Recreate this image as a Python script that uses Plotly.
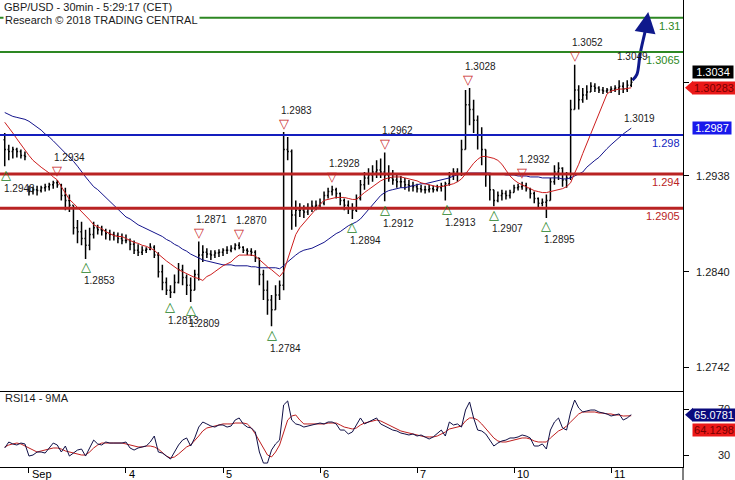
import plotly.graph_objects as go

# ---------------- data (hourly bars; hour 0 = 3 Sep 00:00, weekend removed) ----------------
hours = list(range(-6, 150))

opens = [
    1.2975, 1.2965, 1.2963, 1.2965, 1.2963, 1.2959,
    1.2924, 1.2922, 1.2924, 1.2923, 1.2926, 1.2927, 1.2929, 1.2931,
    1.2929, 1.2918, 1.2913, 1.2908, 1.2885, 1.2881, 1.2874, 1.2867,
    1.2878, 1.2885, 1.2883, 1.2882, 1.2879, 1.2878, 1.2877, 1.2874,
    1.2872, 1.2872, 1.2868, 1.2862, 1.2860, 1.2862, 1.2863, 1.2865,
    1.2857, 1.2840, 1.2829, 1.2821, 1.2819, 1.2829, 1.2842, 1.2834,
    1.2826, 1.2821, 1.2837, 1.2857, 1.2860, 1.2858, 1.2857, 1.2859,
    1.2860, 1.2862, 1.2862, 1.2864, 1.2867, 1.2865, 1.2862, 1.2861,
    1.2860, 1.2854, 1.2837, 1.2821, 1.2811, 1.2801, 1.2816, 1.2826,
    1.2965, 1.2963, 1.2898, 1.2903, 1.2903, 1.2901, 1.2905, 1.2907,
    1.2908, 1.2910, 1.2918, 1.2922, 1.2924, 1.2920, 1.2913, 1.2908,
    1.2905, 1.2903, 1.2915, 1.2929, 1.2936, 1.2939, 1.2942, 1.2944,
    1.2942, 1.2939, 1.2936, 1.2934, 1.2932, 1.2932, 1.2929, 1.2928,
    1.2927, 1.2925, 1.2924, 1.2924, 1.2925, 1.2924, 1.2926, 1.2928,
    1.2930, 1.2938, 1.2942, 1.2940, 1.2965, 1.3011, 1.3006, 1.2995,
    1.2980, 1.2965, 1.2939, 1.2924, 1.2913, 1.2918, 1.2920, 1.2918,
    1.2921, 1.2926, 1.2927, 1.2928, 1.2925, 1.2920, 1.2915, 1.2910,
    1.2911, 1.2913, 1.2932, 1.2942, 1.2946, 1.2934, 1.2936, 1.3006,
    1.3026, 1.3016, 1.3021, 1.3024, 1.3030, 1.3028, 1.3026, 1.3025,
    1.3026, 1.3027, 1.3028, 1.3030, 1.3027, 1.3031,
]
highs = [
    1.2982, 1.2970, 1.2968, 1.2967, 1.2965, 1.2963,
    1.2928, 1.2927, 1.2928, 1.2928, 1.2930, 1.2931, 1.2933, 1.2934,
    1.2930, 1.2926, 1.2919, 1.2908, 1.2893, 1.2891, 1.2883, 1.2885,
    1.2891, 1.2888, 1.2887, 1.2884, 1.2883, 1.2881, 1.2880, 1.2879,
    1.2878, 1.2874, 1.2872, 1.2868, 1.2866, 1.2865, 1.2869, 1.2867,
    1.2860, 1.2847, 1.2834, 1.2826, 1.2837, 1.2849, 1.2847, 1.2837,
    1.2834, 1.2842, 1.2871, 1.2867, 1.2864, 1.2862, 1.2862, 1.2863,
    1.2864, 1.2866, 1.2867, 1.2869, 1.2870, 1.2866, 1.2864, 1.2864,
    1.2862, 1.2854, 1.2842, 1.2831, 1.2816, 1.2826, 1.2831, 1.2983,
    1.2978, 1.2965, 1.2913, 1.2910, 1.2908, 1.2910, 1.2913, 1.2913,
    1.2915, 1.2922, 1.2926, 1.2928, 1.2926, 1.2921, 1.2915, 1.2913,
    1.2910, 1.2919, 1.2934, 1.2942, 1.2946, 1.2949, 1.2954, 1.2956,
    1.2962, 1.2949, 1.2944, 1.2939, 1.2938, 1.2936, 1.2934, 1.2932,
    1.2930, 1.2929, 1.2928, 1.2929, 1.2928, 1.2929, 1.2931, 1.2932,
    1.2942, 1.2946, 1.2946, 1.2975, 1.3026, 1.3028, 1.3016, 1.3000,
    1.2988, 1.2965, 1.2939, 1.2924, 1.2922, 1.2924, 1.2923, 1.2924,
    1.2929, 1.2930, 1.2932, 1.2931, 1.2926, 1.2922, 1.2916, 1.2915,
    1.2919, 1.2936, 1.2949, 1.2952, 1.2947, 1.2942, 1.3016, 1.3052,
    1.3031, 1.3028, 1.3031, 1.3034, 1.3033, 1.3030, 1.3029, 1.3028,
    1.3030, 1.3031, 1.3036, 1.3034, 1.3036, 1.3039,
]
lows = [
    1.2948, 1.2954, 1.2956, 1.2957, 1.2956, 1.2954,
    1.2918, 1.2919, 1.2918, 1.2921, 1.2922, 1.2923, 1.2925, 1.2926,
    1.2913, 1.2903, 1.2901, 1.2878, 1.2869, 1.2867, 1.2853, 1.2862,
    1.2874, 1.2878, 1.2877, 1.2873, 1.2872, 1.2872, 1.2869, 1.2868,
    1.2869, 1.2862, 1.2858, 1.2856, 1.2857, 1.2859, 1.2862, 1.2854,
    1.2834, 1.2821, 1.2816, 1.2813, 1.2818, 1.2828, 1.2826, 1.2816,
    1.2809, 1.2821, 1.2831, 1.2850, 1.2854, 1.2852, 1.2854, 1.2855,
    1.2856, 1.2858, 1.2860, 1.2862, 1.2863, 1.2859, 1.2857, 1.2856,
    1.2850, 1.2826, 1.2811, 1.2796, 1.2784, 1.2801, 1.2811, 1.2821,
    1.2954, 1.2883, 1.2886, 1.2896, 1.2895, 1.2898, 1.2901, 1.2903,
    1.2905, 1.2908, 1.2915, 1.2918, 1.2915, 1.2908, 1.2903, 1.2899,
    1.2894, 1.2901, 1.2913, 1.2924, 1.2929, 1.2932, 1.2936, 1.2936,
    1.2912, 1.2932, 1.2929, 1.2926, 1.2926, 1.2924, 1.2922, 1.2922,
    1.2921, 1.2921, 1.2920, 1.2921, 1.2921, 1.2922, 1.2922, 1.2913,
    1.2928, 1.2934, 1.2932, 1.2938, 1.2965, 1.2990, 1.2982, 1.2965,
    1.2949, 1.2927, 1.2913, 1.2907, 1.2911, 1.2913, 1.2914, 1.2915,
    1.2921, 1.2923, 1.2924, 1.2922, 1.2915, 1.2910, 1.2906, 1.2907,
    1.2895, 1.2913, 1.2929, 1.2934, 1.2927, 1.2926, 1.2934, 1.3006,
    1.3006, 1.3013, 1.3016, 1.3024, 1.3024, 1.3023, 1.3022, 1.3023,
    1.3023, 1.3024, 1.3021, 1.3023, 1.3024, 1.3029,
]
closes = [
    1.2965, 1.2963, 1.2965, 1.2963, 1.2959, 1.2958,
    1.2922, 1.2924, 1.2923, 1.2926, 1.2927, 1.2929, 1.2931, 1.2929,
    1.2918, 1.2913, 1.2908, 1.2885, 1.2881, 1.2874, 1.2867, 1.2878,
    1.2885, 1.2883, 1.2882, 1.2879, 1.2878, 1.2877, 1.2874, 1.2872,
    1.2872, 1.2868, 1.2862, 1.2860, 1.2862, 1.2863, 1.2865, 1.2857,
    1.2840, 1.2829, 1.2821, 1.2819, 1.2829, 1.2842, 1.2834, 1.2826,
    1.2821, 1.2837, 1.2857, 1.2860, 1.2858, 1.2857, 1.2859, 1.2860,
    1.2862, 1.2862, 1.2864, 1.2867, 1.2865, 1.2862, 1.2861, 1.2860,
    1.2854, 1.2837, 1.2821, 1.2811, 1.2801, 1.2816, 1.2826, 1.2965,
    1.2963, 1.2898, 1.2903, 1.2903, 1.2901, 1.2905, 1.2907, 1.2908,
    1.2910, 1.2918, 1.2922, 1.2924, 1.2920, 1.2913, 1.2908, 1.2905,
    1.2903, 1.2915, 1.2929, 1.2936, 1.2939, 1.2942, 1.2944, 1.2942,
    1.2939, 1.2936, 1.2934, 1.2932, 1.2932, 1.2929, 1.2928, 1.2927,
    1.2925, 1.2924, 1.2924, 1.2925, 1.2924, 1.2926, 1.2928, 1.2930,
    1.2938, 1.2942, 1.2940, 1.2965, 1.3011, 1.3006, 1.2995, 1.2980,
    1.2965, 1.2939, 1.2924, 1.2913, 1.2918, 1.2920, 1.2918, 1.2921,
    1.2926, 1.2927, 1.2928, 1.2925, 1.2920, 1.2915, 1.2910, 1.2911,
    1.2913, 1.2932, 1.2942, 1.2946, 1.2934, 1.2936, 1.3006, 1.3026,
    1.3016, 1.3021, 1.3024, 1.3030, 1.3028, 1.3026, 1.3025, 1.3026,
    1.3027, 1.3028, 1.3030, 1.3027, 1.3031, 1.3034,
]
ma_red = [
    1.2993, 1.2988, 1.2982, 1.2976, 1.2970, 1.2965,
    1.2959, 1.2954, 1.2950, 1.2947, 1.2944, 1.2941, 1.2937, 1.2934,
    1.2927, 1.2921, 1.2914, 1.2910, 1.2906, 1.2902, 1.2898, 1.2893,
    1.2888, 1.2886, 1.2884, 1.2881, 1.2879, 1.2877, 1.2876, 1.2876,
    1.2874, 1.2872, 1.2870, 1.2869, 1.2867, 1.2866, 1.2864, 1.2862,
    1.2858, 1.2854, 1.2851, 1.2848, 1.2845, 1.2842, 1.2840, 1.2838,
    1.2836, 1.2834, 1.2833, 1.2831, 1.2835, 1.2837, 1.2840, 1.2843,
    1.2846, 1.2848, 1.2850, 1.2854, 1.2857, 1.2857, 1.2857, 1.2857,
    1.2856, 1.2852, 1.2848, 1.2845, 1.2842, 1.2838, 1.2835, 1.2840,
    1.2852, 1.2864, 1.2878, 1.2885, 1.2890, 1.2895, 1.2899, 1.2904,
    1.2909, 1.2913, 1.2914, 1.2915, 1.2916, 1.2916, 1.2916, 1.2915,
    1.2914, 1.2914, 1.2918, 1.2921, 1.2924, 1.2927, 1.2930, 1.2933,
    1.2935, 1.2936, 1.2937, 1.2937, 1.2937, 1.2936, 1.2935, 1.2934,
    1.2933, 1.2931, 1.2930, 1.2929, 1.2928, 1.2927, 1.2927, 1.2928,
    1.2929, 1.2930, 1.2932, 1.2935, 1.2940, 1.2946, 1.2951, 1.2955,
    1.2958, 1.2958, 1.2957, 1.2956, 1.2954, 1.2950, 1.2944, 1.2938,
    1.2934, 1.2931, 1.2929, 1.2927, 1.2925, 1.2923, 1.2922, 1.2921,
    1.2921, 1.2922, 1.2923, 1.2924, 1.2925, 1.2927, 1.2931, 1.2941,
    1.2950, 1.2961, 1.2971, 1.2981, 1.2991, 1.3001, 1.3012, 1.3022,
    1.3025, 1.3026, 1.3027, 1.3027, 1.3028, 1.30283,
]
ma_blue = [
    1.3003, 1.3001, 1.2999, 1.2998, 1.2997, 1.2996,
    1.2994, 1.2991, 1.2988, 1.2985, 1.2981, 1.2978, 1.2974, 1.2970,
    1.2966, 1.2962, 1.2957, 1.2953, 1.2948, 1.2942, 1.2937, 1.2932,
    1.2927, 1.2924, 1.2920, 1.2915, 1.2911, 1.2908, 1.2904, 1.2900,
    1.2896, 1.2894, 1.2891, 1.2888, 1.2886, 1.2884, 1.2882, 1.2880,
    1.2878, 1.2876, 1.2873, 1.2871, 1.2868, 1.2866, 1.2863, 1.2861,
    1.2858, 1.2856, 1.2854, 1.2852, 1.2851, 1.2850, 1.2849, 1.2848,
    1.2847, 1.2847, 1.2847, 1.2846, 1.2846, 1.2846, 1.2846, 1.2845,
    1.2845, 1.2844, 1.2844, 1.2844, 1.2844, 1.2844, 1.2843, 1.2846,
    1.2850, 1.2854, 1.2857, 1.2860, 1.2862, 1.2863, 1.2864, 1.2866,
    1.2868, 1.2870, 1.2873, 1.2876, 1.2879, 1.2881, 1.2884, 1.2887,
    1.2889, 1.2891, 1.2894, 1.2899, 1.2904, 1.2908, 1.2913, 1.2918,
    1.2921, 1.2923, 1.2924, 1.2925, 1.2926, 1.2926, 1.2927, 1.2928,
    1.2929, 1.2930, 1.2930, 1.2931, 1.2932, 1.2933, 1.2934, 1.2935,
    1.2936, 1.2938, 1.2939, 1.2940, 1.2941, 1.2941, 1.2941, 1.2941,
    1.2941, 1.2941, 1.2941, 1.2940, 1.2940, 1.2940, 1.2939, 1.2939,
    1.2939, 1.2938, 1.2938, 1.2938, 1.2937, 1.2937, 1.2937, 1.2936,
    1.2936, 1.2936, 1.2936, 1.2936, 1.2935, 1.2935, 1.2936, 1.2938,
    1.2940, 1.2942, 1.2947, 1.2951, 1.2954, 1.2957, 1.2962, 1.2966,
    1.2970, 1.2974, 1.2978, 1.2981, 1.2984, 1.2987,
]
rsi = [
    36.1, 41.3, 39.6, 38.7, 40.4, 39.6,
    29.1, 30.0, 32.6, 32.6, 31.7, 36.1, 40.4, 38.7,
    32.6, 37.8, 29.1, 31.7, 34.3, 35.2, 29.1, 36.1,
    43.0, 39.6, 38.7, 41.3, 40.4, 40.4, 40.4, 40.4,
    41.3, 36.1, 34.3, 36.1, 37.0, 37.8, 41.3, 46.5,
    32.6, 31.7, 29.1, 26.5, 32.6, 38.7, 43.0, 44.8,
    37.8, 44.8, 54.3, 58.7, 57.0, 55.2, 54.3, 56.1,
    56.1, 54.3, 55.2, 60.4, 62.2, 57.0, 54.3, 53.5,
    50.0, 32.6, 23.0, 23.0, 34.3, 39.6, 43.0, 73.5,
    77.0, 60.4, 57.0, 56.1, 54.3, 55.2, 56.1, 57.0,
    57.8, 57.0, 58.7, 58.7, 57.0, 51.7, 51.7, 48.3,
    50.0, 56.1, 62.2, 57.0, 58.7, 60.4, 62.2, 57.0,
    55.2, 53.5, 51.7, 50.9, 49.1, 48.3, 47.4, 48.3,
    46.5, 47.4, 45.7, 43.9, 45.7, 48.3, 51.7, 46.5,
    58.7, 56.1, 57.0, 54.3, 69.1, 76.1, 62.2, 51.7,
    50.9, 48.3, 43.0, 37.8, 40.4, 42.2, 43.0, 44.8,
    44.8, 45.7, 47.4, 46.5, 44.8, 37.8, 37.8, 39.6,
    35.2, 51.7, 58.7, 62.2, 53.5, 51.7, 67.4, 77.8,
    70.9, 67.4, 68.3, 69.1, 69.1, 67.4, 66.5, 65.7,
    63.9, 64.8, 65.7, 60.4, 62.2, 65.0781,
]
rsi_ma = [
    37.0, 38.7, 39.6, 40.4, 39.6, 37.8,
    36.1, 34.3, 32.6, 33.5, 34.3, 35.2, 36.1, 36.1,
    35.2, 33.5, 32.6, 31.7, 30.9, 30.0, 30.0, 32.6,
    36.1, 38.7, 40.4, 40.4, 40.4, 40.4, 40.4, 40.4,
    39.6, 38.7, 37.8, 37.0, 37.0, 37.8, 37.8, 37.0,
    35.2, 31.7, 29.1, 27.4, 28.3, 30.9, 34.3, 37.0,
    38.7, 42.2, 46.5, 50.9, 53.5, 54.3, 55.2, 56.1,
    57.0, 57.0, 57.0, 57.8, 57.8, 57.8, 57.0, 53.5,
    48.3, 42.2, 36.1, 30.0, 28.3, 32.6, 38.7, 50.0,
    60.4, 63.9, 64.8, 60.4, 57.0, 57.0, 57.0, 57.0,
    57.0, 57.0, 57.8, 57.8, 57.8, 56.1, 54.3, 53.5,
    52.6, 53.5, 56.1, 57.8, 58.7, 59.6, 60.4, 59.6,
    57.8, 56.1, 54.3, 52.6, 50.9, 50.0, 49.1, 48.3,
    47.4, 46.5, 45.7, 45.7, 45.7, 46.5, 48.3, 50.0,
    52.6, 53.5, 54.3, 55.2, 59.6, 62.2, 62.2, 60.4,
    57.0, 52.6, 48.3, 44.8, 42.2, 41.3, 41.3, 42.2,
    43.0, 43.9, 44.8, 44.8, 43.9, 42.2, 41.3, 41.3,
    41.3, 44.8, 48.3, 50.9, 52.6, 55.2, 58.7, 62.2,
    65.7, 67.4, 67.4, 67.4, 67.4, 66.5, 66.5, 65.7,
    65.7, 64.8, 64.8, 63.9, 63.9, 64.1298,
]

for name, arr in [("opens", opens), ("highs", highs), ("lows", lows), ("closes", closes),
                  ("ma_red", ma_red), ("ma_blue", ma_blue), ("rsi", rsi), ("rsi_ma", rsi_ma)]:
    if len(arr) != len(hours):
        raise ValueError(f"{name} has {len(arr)} values, expected {len(hours)}")

# swing points
swing_high_hours = [7, 42, 52, 63, 75, 88, 108.6, 122, 135]
swing_high_values = [1.2934, 1.2871, 1.2870, 1.2983, 1.2928, 1.2962, 1.3028, 1.2932, 1.3052]
swing_low_hours = [-5.7, 14, 35, 40, 60, 80, 88, 103.5, 115, 128]
swing_low_values = [1.2948, 1.2853, 1.2813, 1.2809, 1.2784, 1.2894, 1.2912, 1.2913, 1.2907, 1.2895]

# key levels
level_values = [1.31, 1.3065, 1.298, 1.294, 1.2905]
level_labels = ["1.31", "1.3065", "1.298", "1.294", "1.2905"]
level_colors = ["rgb(45,135,35)", "rgb(45,135,35)", "rgb(20,30,190)", "rgb(185,35,35)", "rgb(185,35,35)"]
level_widths = [2, 2, 2, 3, 3]

# day labels
day_hours = [0, 24, 48, 72, 96, 120, 144]
day_labels = ["Sep", "4", "5", "6", "7", "10", "11"]

price_ticks = [1.2742, 1.2840, 1.2938]
rsi_ticks = [30, 70]

# projected arrow
arrow_hours = [149.3, 150.4, 151.2, 152.5]
arrow_prices = [1.3036, 1.3042, 1.3063, 1.3087]
arrow_tip = (153.2, 1.3106)

last_price = 1.3034
red_ma_last = 1.30283
blue_ma_last = 1.2987
rsi_last = 65.0781
rsi_ma_last = 64.1298

FONT = "Liberation Sans, Arial, sans-serif"
W, H = 735, 480
ML, MR, MT, MB = 0, 52, 0, 13
PW = W - ML - MR       # 683
PH = H - MT - MB       # 467
split = 76 / PH        # RSI panel height fraction

fig = go.Figure()

fig.add_trace(go.Ohlc(
    x=hours, open=opens, high=highs, low=lows, close=closes,
    increasing=dict(line=dict(color="black", width=1.5)),
    decreasing=dict(line=dict(color="black", width=1.5)),
    tickwidth=0.3, showlegend=False, hoverinfo="skip", xaxis="x", yaxis="y",
))
fig.add_trace(go.Scatter(x=hours, y=ma_blue, mode="lines",
                         line=dict(color="rgb(20,20,140)", width=1), showlegend=False,
                         hoverinfo="skip", xaxis="x", yaxis="y"))
fig.add_trace(go.Scatter(x=hours, y=ma_red, mode="lines",
                         line=dict(color="rgb(205,30,30)", width=1), showlegend=False,
                         hoverinfo="skip", xaxis="x", yaxis="y"))
fig.add_trace(go.Scatter(x=arrow_hours, y=arrow_prices, mode="lines",
                         line=dict(color="rgb(15,25,140)", width=3, shape="spline"),
                         showlegend=False, hoverinfo="skip", xaxis="x", yaxis="y"))

fig.add_trace(go.Scatter(x=hours, y=rsi_ma, mode="lines",
                         line=dict(color="rgb(190,30,30)", width=1), showlegend=False,
                         hoverinfo="skip", xaxis="x2", yaxis="y2"))
fig.add_trace(go.Scatter(x=hours, y=rsi, mode="lines",
                         line=dict(color="rgb(15,15,70)", width=1), showlegend=False,
                         hoverinfo="skip", xaxis="x2", yaxis="y2"))

shapes = []
for v, c, w in zip(level_values, level_colors, level_widths):
    shapes.append(dict(type="line", xref="paper", x0=0, x1=1, yref="y", y0=v, y1=v,
                       line=dict(color=c, width=w), layer="above"))
# extension of the price axis line down through the date strip
shapes.append(dict(type="line", xref="paper", x0=1, x1=1, yref="paper", y0=-MB / PH, y1=0,
                   line=dict(color="black", width=1)))

annotations = []
# header
annotations.append(dict(text="GBP/USD - 30min - 5:29:17 (CET)", xref="paper", yref="paper",
                        x=3 / PW, y=1 - 7 / PH, xanchor="left", yanchor="middle", showarrow=False,
                        font=dict(family=FONT, size=11, color="#1a1a1a"), bgcolor="white", borderpad=0))
annotations.append(dict(text="Research © 2018 TRADING CENTRAL", xref="paper", yref="paper",
                        x=3 / PW, y=1 - 20 / PH, xanchor="left", yanchor="middle", showarrow=False,
                        font=dict(family=FONT, size=11, color="#1a1a1a"), bgcolor="white", borderpad=1))
annotations.append(dict(text="RSI14 - 9MA", xref="paper", yref="paper",
                        x=3 / PW, y=(PH - 398) / PH, xanchor="left", yanchor="middle", showarrow=False,
                        font=dict(family=FONT, size=11, color="#1a1a1a")))

# level labels (right edge, under each line)
for v, t, c in zip(level_values, level_labels, level_colors):
    annotations.append(dict(text=t, xref="paper", yref="y", x=1, y=v, xanchor="right",
                            yanchor="middle", yshift=-8, xshift=-1, showarrow=False,
                            font=dict(family=FONT, size=11, color=c)))

# swing highs / lows
for h, v in zip(swing_high_hours, swing_high_values):
    annotations.append(dict(text="▽", x=h, y=v, xref="x", yref="y", showarrow=False,
                            yanchor="middle", yshift=9,
                            font=dict(family="DejaVu Sans", size=13, color="rgb(200,35,35)")))
    annotations.append(dict(text=f"{v:.4f}", x=h, y=v, xref="x", yref="y", showarrow=False,
                            xanchor="left", yanchor="middle", xshift=-5, yshift=22,
                            font=dict(family=FONT, size=10, color="#1a1a1a")))
for h, v in zip(swing_low_hours, swing_low_values):
    annotations.append(dict(text="△", x=h, y=v, xref="x", yref="y", showarrow=False,
                            yanchor="middle", yshift=-8,
                            font=dict(family="DejaVu Sans", size=13, color="rgb(30,130,30)")))
    annotations.append(dict(text=f"{v:.4f}", x=h, y=v, xref="x", yref="y", showarrow=False,
                            xanchor="left", yanchor="middle", xshift=-4, yshift=-22,
                            font=dict(family=FONT, size=10, color="#1a1a1a")))

# extra target texts
annotations.append(dict(text="1.3049", x=145, y=1.3060, xref="x", yref="y", showarrow=False,
                        xanchor="left", yanchor="middle", font=dict(family=FONT, size=10, color="#1a1a1a")))
annotations.append(dict(text="1.3019", x=146.8, y=1.2997, xref="x", yref="y", showarrow=False,
                        xanchor="left", yanchor="middle", font=dict(family=FONT, size=10, color="#1a1a1a")))

# arrow head
annotations.append(dict(x=arrow_tip[0], y=arrow_tip[1], ax=arrow_hours[-1], ay=arrow_prices[-1],
                        xref="x", yref="y", axref="x", ayref="y", text="", showarrow=True,
                        arrowhead=2, arrowsize=1.4, arrowwidth=3, arrowcolor="rgb(15,25,140)"))

# x labels
for h, t in zip(day_hours, day_labels):
    annotations.append(dict(text=t, x=h, y=-7 / PH, xref="x", yref="paper", showarrow=False,
                            xanchor="left", yanchor="middle", xshift=1,
                            font=dict(family=FONT, size=11, color="black")))

# right axis labels
xr = 732 / PW
for v in price_ticks:
    annotations.append(dict(text=f"{v:.4f}", x=xr, y=v, xref="paper", yref="y", showarrow=False,
                            xanchor="right", yanchor="middle",
                            font=dict(family=FONT, size=11, color="#1a1a1a")))
for v in rsi_ticks:
    annotations.append(dict(text=str(v), x=xr, y=v, xref="paper", yref="y2", showarrow=False,
                            xanchor="right", yanchor="middle",
                            font=dict(family=FONT, size=11, color="#1a1a1a")))

# value boxes
bx = 692 / PW
def box(text, y, yref, bg, fg, width, yshift=0, arrow=False):
    annotations.append(dict(text=text, x=bx, y=y, xref="paper", yref=yref, showarrow=False,
                            xanchor="left", yanchor="middle", yshift=yshift, width=width, height=12,
                            align="center", bgcolor=bg, borderpad=0,
                            font=dict(family=FONT, size=11, color=fg)))
    if arrow:
        shapes.append(dict(type="path", xref="paper", xsizemode="pixel", xanchor=1,
                           yref=yref, ysizemode="pixel", yanchor=y,
                           path="M 2 0 L 10 7 L 10 -7 Z", fillcolor=bg, line=dict(width=0),
                           layer="above"))

box(f"{last_price:.4f}", last_price, "y", "black", "white", 40, yshift=10)
box(f"{red_ma_last:.5f}", red_ma_last, "y", "rgb(235,25,25)", "rgb(120,0,0)", 42, arrow=True)
box(f"{blue_ma_last:.4f}", blue_ma_last, "y", "rgb(25,25,235)", "white", 38)
box(f"{rsi_last:.4f}", rsi_last, "y2", "rgb(10,10,125)", "white", 42, arrow=True)
box(f"{rsi_ma_last:.4f}", rsi_ma_last, "y2", "rgb(235,25,25)", "rgb(120,0,0)", 42, yshift=-14)

x_range = [-7.17, 161.8]
fig.update_layout(
    width=W, height=H,
    margin=dict(l=ML, r=MR, t=MT, b=MB, pad=0),
    paper_bgcolor="white", plot_bgcolor="white",
    showlegend=False,
    font=dict(family=FONT, size=11, color="#1a1a1a"),
    xaxis=dict(domain=[0, 1], anchor="y", range=x_range, showticklabels=False, ticks="",
               showline=True, linecolor="black", linewidth=1, showgrid=False, zeroline=False,
               rangeslider=dict(visible=False), fixedrange=True),
    xaxis2=dict(domain=[0, 1], anchor="y2", range=x_range, matches="x", tickmode="array",
                tickvals=day_hours, showticklabels=False, ticks="outside", ticklen=5,
                tickcolor="black", showline=True, linecolor="black", linewidth=1,
                showgrid=False, zeroline=False, rangeslider=dict(visible=False), fixedrange=True),
    yaxis=dict(domain=[split, 1], anchor="x", side="right", range=[1.27178, 1.31182],
               tickmode="array", tickvals=price_ticks + [last_price], showticklabels=False,
               ticks="outside", ticklen=5, tickcolor="black", showline=True, linecolor="black",
               linewidth=1, showgrid=False, zeroline=False, fixedrange=True),
    yaxis2=dict(domain=[0, split], anchor="x2", side="right", range=[19.57, 85.65],
                tickmode="array", tickvals=rsi_ticks, showticklabels=False, ticks="outside",
                ticklen=5, tickcolor="black", showline=True, linecolor="black", linewidth=1,
                showgrid=False, zeroline=False, fixedrange=True),
    shapes=shapes,
    annotations=annotations,
)

fig.write_html(
    "out.html",
    config={"displayModeBar": False},
    post_script="document.body.style.margin='0';document.body.style.padding='0';"
                "document.body.style.overflow='hidden';",
)
